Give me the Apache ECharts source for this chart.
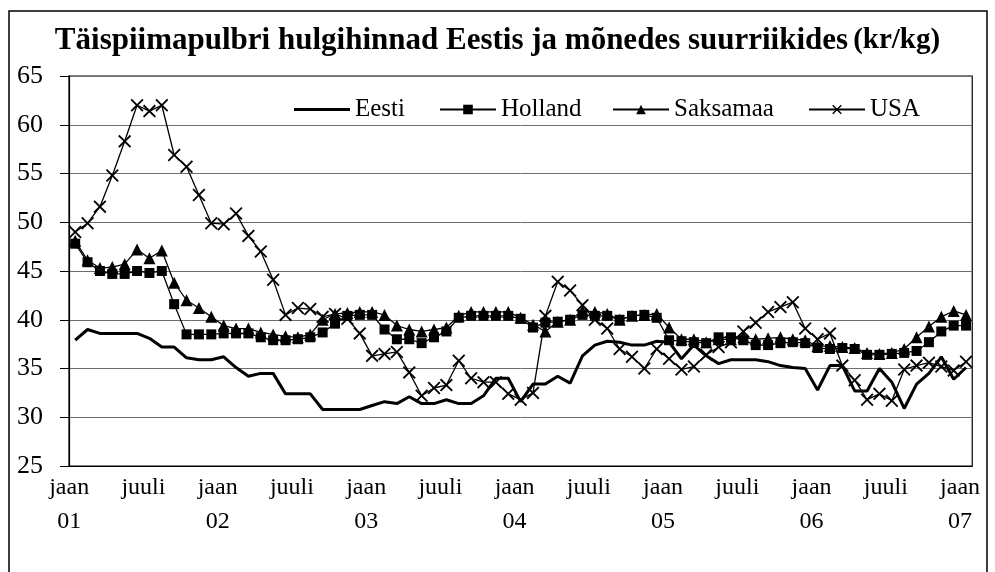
<!DOCTYPE html>
<html>
<head>
<meta charset="utf-8">
<script src="https://cdn.jsdelivr.net/npm/echarts@6/dist/echarts.min.js"></script>
<style>
  html, body { margin: 0; padding: 0; background: #fff; }
  #chart { width: 995px; height: 572px; }
</style>
</head>
<body>
<div id="chart"></div>
<script>
// kuud: jaan 2001 ... jaan 2007 (73 kuud)
var months = [];
for (var y = 1; y <= 7; y++) {
  var last = y === 7 ? 1 : 12;
  for (var m = 1; m <= last; m++) {
    months.push('0' + y + '-' + (m < 10 ? '0' + m : m));
  }
}

var eesti = [
  37.9, 39.0, 38.6, 38.6, 38.6, 38.6, 38.1, 37.2, 37.2, 36.1, 35.9, 35.9,
  36.2, 35.1, 34.2, 34.5, 34.5, 32.4, 32.4, 32.4, 30.8, 30.8, 30.8, 30.8,
  31.2, 31.6, 31.4, 32.1, 31.4, 31.4, 31.8, 31.4, 31.4, 32.2, 34.0, 34.0,
  31.6, 33.4, 33.4, 34.2, 33.5, 36.3, 37.4, 37.8, 37.7, 37.4, 37.4, 37.8,
  37.7, 36.0, 37.4, 36.3, 35.5, 35.9, 35.9, 35.9, 35.7, 35.3, 35.1, 35.0,
  32.8, 35.3, 35.3, 32.7, 32.7, 35.0, 33.6, 30.9, 33.4, 34.5, 36.2, 33.9,
  35.1
];
var holland = [
  47.8, 45.9, 45.0, 44.7, 44.7, 45.0, 44.8, 45.0, 41.6, 38.5, 38.5, 38.5,
  38.6, 38.6, 38.6, 38.2, 37.9, 37.9, 38.0, 38.2, 38.7, 39.6, 40.4, 40.5,
  40.5, 39.0, 38.0, 38.0, 37.6, 38.2, 38.8, 40.2, 40.4, 40.4, 40.4, 40.4,
  40.1, 39.2, 39.7, 39.8, 40.0, 40.5, 40.4, 40.4, 40.0, 40.4, 40.5, 40.2,
  37.9, 37.8, 37.7, 37.6, 38.2, 38.2, 37.9, 37.4, 37.4, 37.6, 37.7, 37.6,
  37.1, 37.0, 37.1, 37.0, 36.4, 36.4, 36.5, 36.6, 36.8, 37.7, 38.8, 39.4,
  39.4
];
var saksamaa = [
  48.1, 46.1, 45.3, 45.4, 45.7, 47.2, 46.3, 47.1, 43.8, 42.0, 41.2, 40.3,
  39.4, 39.1, 39.1, 38.7, 38.5, 38.3, 38.2, 38.5, 40.0, 40.6, 40.7, 40.8,
  40.8, 40.5, 39.4, 39.0, 38.8, 39.0, 39.2, 40.4, 40.8, 40.8, 40.8, 40.8,
  40.2, 39.5, 38.8, 39.8, 40.0, 40.9, 40.8, 40.6, 40.0, 40.4, 40.5, 40.6,
  39.2, 38.0, 38.0, 37.7, 38.0, 38.0, 38.2, 38.0, 38.1, 38.2, 38.0, 37.9,
  37.3, 37.3, 37.2, 37.1, 36.6, 36.5, 36.6, 37.0, 38.2, 39.3, 40.3, 40.9,
  40.5
];
var usa = [
  49.0, 49.9, 51.6, 54.8, 58.3, 62.0, 61.4, 62.0, 56.9, 55.7, 52.8, 49.9,
  49.8, 50.9, 48.6, 47.0, 44.1, 40.5, 41.2, 41.1, 40.3, 40.6, 40.1, 38.6,
  36.3, 36.5, 36.7, 34.6, 32.2, 33.0, 33.3, 35.8, 34.0, 33.6, 33.6, 32.4,
  31.8, 32.5, 40.4, 43.9, 43.0, 41.5, 40.0, 39.1, 37.0, 36.2, 35.0, 37.0,
  36.0, 34.9, 35.2, 36.4, 37.2, 37.7, 38.8, 39.7, 40.8, 41.3, 41.8, 39.1,
  38.0, 38.6, 35.3, 33.8, 31.8, 32.4, 31.7, 34.9, 35.3, 35.6, 35.2, 34.8,
  35.7
];

var seriesNames = ['Eesti', 'Holland', 'Saksamaa', 'USA'];
var yTicks = [25, 30, 35, 40, 45, 50, 55, 60, 65];

var serif = '"Liberation Serif", "Times New Roman", serif';
var crossPath = 'path://M0,1L1,0L5,4L9,0L10,1L6,5L10,9L9,10L5,6L1,10L0,9L4,5Z';
// paks joon keskel, nurgapunktid hoiavad kasti 56x12
var thickLine = 'path://M0,0L0.02,0L0,0.02Z M0,4.5L56,4.5L56,7.5L0,7.5Z M56,12L55.98,12L56,11.98Z';

function legendAt(name, left, icon) {
  var item = icon ? { name: name, icon: icon } : name;
  return {
    data: [item],
    left: left,
    top: 92,
    itemWidth: 56,
    itemHeight: 12,
    textStyle: { fontFamily: serif, fontSize: 25, color: '#000' },
    selectedMode: false
  };
}

var myChart = echarts.init(document.getElementById('chart'));
myChart.setOption({
  animation: false,
  backgroundColor: '#fff',
  title: {
    left: 'center',
    top: 20,
    text: '{b|Täispiimapulbri hulgihinnad Eestis ja mõnedes suurriikides} {n|(kr/kg)}',
    textStyle: {
      rich: {
        b: { fontFamily: serif, fontSize: 31, fontWeight: 'bold', color: '#000' },
        n: { fontFamily: serif, fontSize: 29, color: '#000' }
      }
    }
  },
  graphic: [
    {
      type: 'rect',
      shape: { x: 9, y: 11, width: 978, height: 600 },
      style: { fill: 'none', stroke: '#000', lineWidth: 1.5 },
      silent: true
    }
  ],
  legend: [
    legendAt('Eesti', 289, thickLine),
    legendAt('Holland', 434),
    legendAt('Saksamaa', 607),
    legendAt('USA', 803)
  ],
  grid: {
    left: 69,
    right: 17,
    top: 76,
    bottom: 106,
    show: true,
    borderColor: '#000',
    borderWidth: 1.2
  },
  xAxis: {
    type: 'category',
    data: months,
    boundaryGap: true,
    axisLine: { lineStyle: { color: '#000', width: 1.2 } },
    axisTick: {
      length: 10,
      interval: function (i) { return i % 6 === 0; },
      lineStyle: { color: '#000' }
    },
    axisLabel: {
      interval: function (i) { return i % 6 === 0; },
      formatter: function (v, i) {
        return i % 12 === 0 ? 'jaan\n' + v.slice(0, 2) : 'juuli\n ';
      },
      fontFamily: serif,
      fontSize: 24,
      lineHeight: 34,
      margin: 5,
      color: '#000',
      padding: [0, 12, 0, 0]
    },
    splitLine: { show: false }
  },
  yAxis: {
    type: 'value',
    min: yTicks[0],
    max: yTicks[yTicks.length - 1],
    interval: 5,
    axisLine: { show: true, lineStyle: { color: '#000', width: 1.2 } },
    axisTick: { show: true, length: 9, lineStyle: { color: '#000' } },
    axisLabel: { fontFamily: serif, fontSize: 26, color: '#000', margin: 26 },
    splitLine: { lineStyle: { color: '#6e6e6e', width: 1 } }
  },
  series: [
    {
      name: seriesNames[0],
      type: 'line',
      data: eesti,
      symbol: 'none',
      lineStyle: { color: '#000', width: 3 },
      itemStyle: { color: '#000' },
      z: 2
    },
    {
      name: seriesNames[1],
      type: 'line',
      data: holland,
      symbol: 'rect',
      symbolSize: 10,
      showAllSymbol: true,
      lineStyle: { color: '#000', width: 1.3 },
      itemStyle: { color: '#000' },
      z: 3
    },
    {
      name: seriesNames[2],
      type: 'line',
      data: saksamaa,
      symbol: 'triangle',
      symbolSize: 12,
      showAllSymbol: true,
      lineStyle: { color: '#000', width: 1.3 },
      itemStyle: { color: '#000' },
      z: 4
    },
    {
      name: seriesNames[3],
      type: 'line',
      data: usa,
      symbol: crossPath,
      symbolSize: 13,
      showAllSymbol: true,
      lineStyle: { color: '#000', width: 1.3 },
      itemStyle: { color: '#000' },
      z: 5
    }
  ]
});
</script>
</body>
</html>
